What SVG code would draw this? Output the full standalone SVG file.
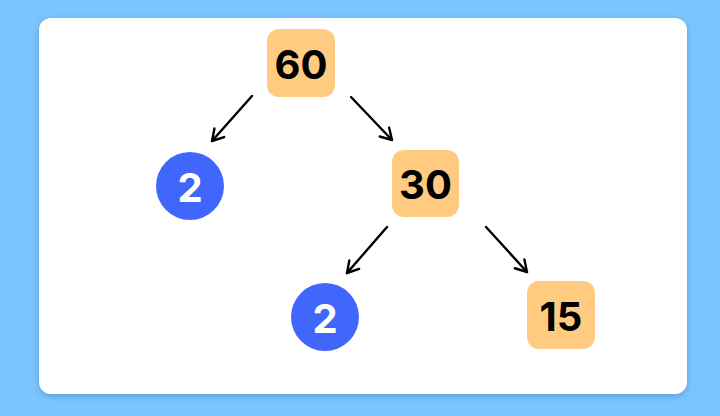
<svg xmlns="http://www.w3.org/2000/svg" width="720" height="416" viewBox="0 0 720 416">
  <defs>
    <filter id="shadow" x="-10%" y="-10%" width="120%" height="120%">
      <feDropShadow dx="0" dy="2" stdDeviation="3" flood-color="#2a6aa8" flood-opacity="0.45"/>
    </filter>
    <marker id="arrow" viewBox="0 0 16 16" refX="13" refY="8" markerWidth="16" markerHeight="16" markerUnits="userSpaceOnUse" orient="auto">
      <path d="M2,1.5 L13,8 L2,14.5" fill="none" stroke="#000" stroke-width="2.4" stroke-linecap="round" stroke-linejoin="round"/>
    </marker>
    <style>
      .box { fill: #ffcb80; }
      .circ { fill: #4066fb; }
      .lbl { font-family: Inter, "Liberation Sans", sans-serif; font-weight: 700; font-size: 40px; text-anchor: middle; dominant-baseline: central; }
      .dark { fill: #000; }
      .light { fill: #fff; }
      .edge { stroke: #000; stroke-width: 2.4; fill: none; stroke-linecap: round; marker-end: url(#arrow); }
    </style>
  </defs>
  <rect x="0" y="0" width="720" height="416" fill="#7cc4fd"/>
  <rect x="39" y="18" width="648" height="376" rx="12" fill="#fff" filter="url(#shadow)"/>

  <g id="connectors">
    <line class="edge" x1="252" y1="96" x2="212" y2="141"/>
    <line class="edge" x1="351" y1="97" x2="392" y2="140"/>
    <line class="edge" x1="387" y1="227" x2="347" y2="273"/>
    <line class="edge" x1="486" y1="227" x2="527" y2="272"/>
  </g>

  <g id="n60">
    <rect class="box" x="267" y="29" width="68" height="68" rx="12"/>
    <text class="lbl dark" x="301" y="64">60</text>
  </g>
  <g id="n2a">
    <circle class="circ" cx="190" cy="186" r="34"/>
    <text class="lbl light" x="190" y="187">2</text>
  </g>
  <g id="n30">
    <rect class="box" x="392" y="150" width="67" height="67" rx="12"/>
    <text class="lbl dark" x="425.5" y="184.5">30</text>
  </g>
  <g id="n2b">
    <circle class="circ" cx="325" cy="317" r="34"/>
    <text class="lbl light" x="325" y="318">2</text>
  </g>
  <g id="n15">
    <rect class="box" x="527" y="281" width="68" height="68" rx="12"/>
    <text class="lbl dark" x="561" y="316">15</text>
  </g>
</svg>
